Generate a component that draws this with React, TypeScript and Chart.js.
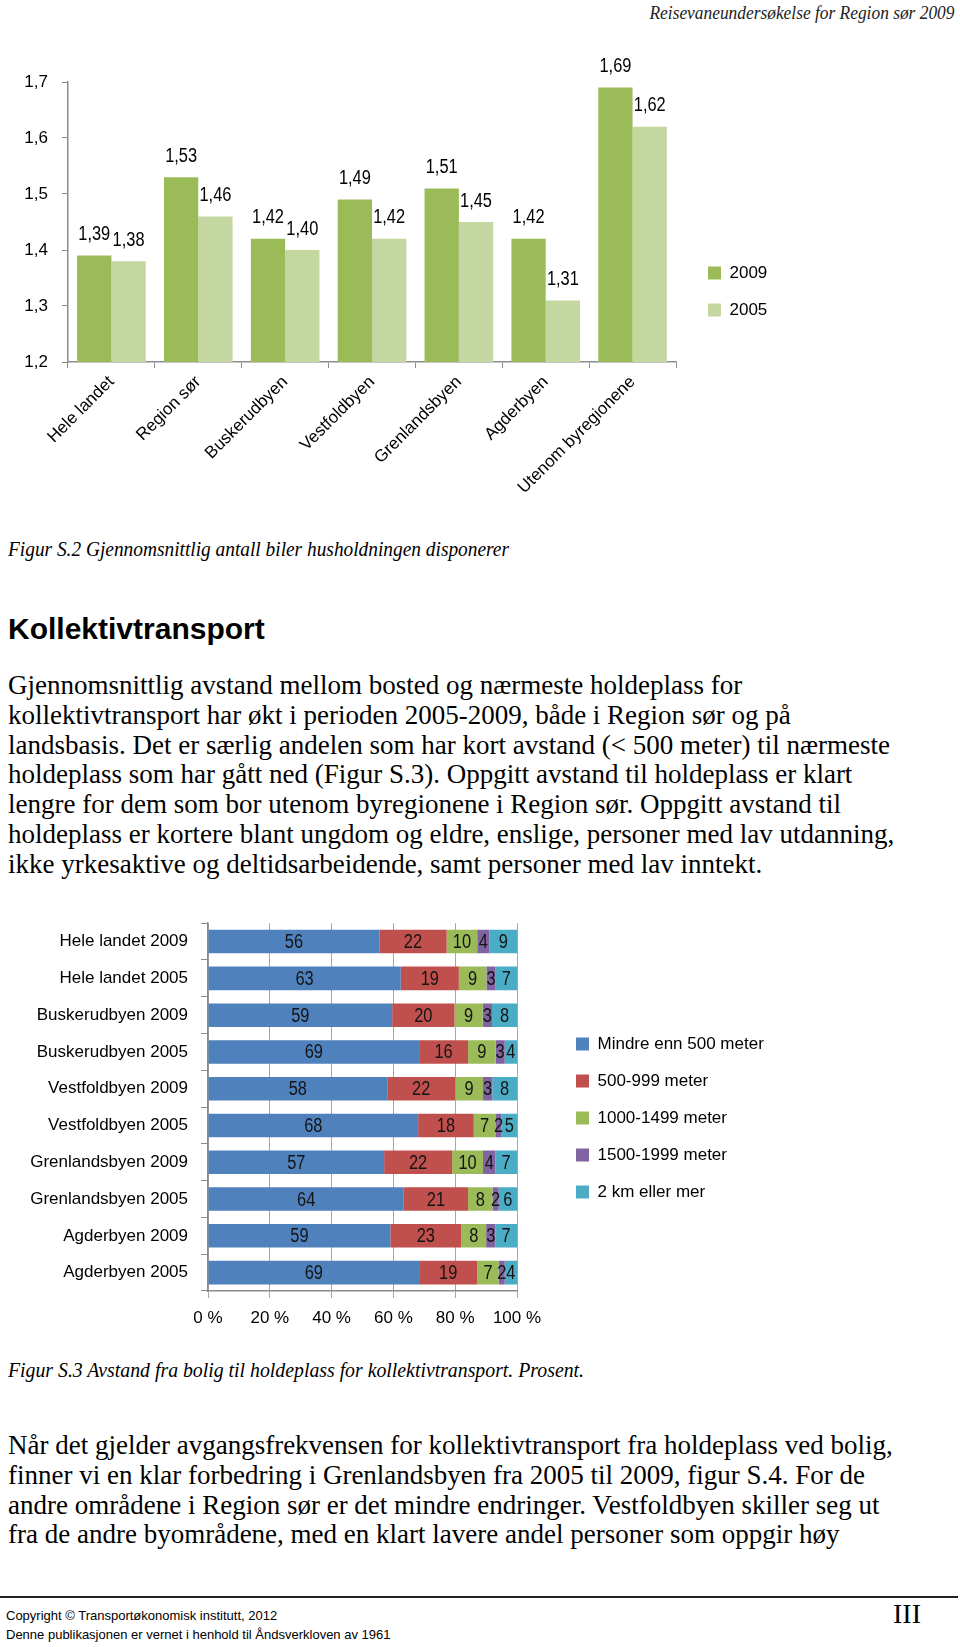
import React, { useEffect, useLayoutEffect, useRef } from 'react';
import { Chart, registerables } from 'chart.js';

Chart.register(...registerables);

// ---------- Data: Figur S.2 ----------
const carCategories = ['Hele landet', 'Region sør', 'Buskerudbyen', 'Vestfoldbyen', 'Grenlandsbyen', 'Agderbyen', 'Utenom byregionene'];
const cars2009 = [1.39, 1.53, 1.42, 1.49, 1.51, 1.42, 1.69];
const cars2005 = [1.38, 1.46, 1.4, 1.42, 1.45, 1.31, 1.62];
const carSeriesNames = ['2009', '2005'];
const carAxisMin = 1.2;
const carAxisMax = 1.7;
const carAxisStep = 0.1;

// ---------- Data: Figur S.3 ----------
const stopCategories = [
  'Hele landet 2009', 'Hele landet 2005', 'Buskerudbyen 2009', 'Buskerudbyen 2005', 'Vestfoldbyen 2009',
  'Vestfoldbyen 2005', 'Grenlandsbyen 2009', 'Grenlandsbyen 2005', 'Agderbyen 2009', 'Agderbyen 2005',
];
const stopSeriesNames = ['Mindre enn 500 meter', '500-999 meter', '1000-1499 meter', '1500-1999 meter', '2 km eller mer'];
const under500 = [56, 63, 59, 69, 58, 68, 57, 64, 59, 69];
const m500to999 = [22, 19, 20, 16, 22, 18, 22, 21, 23, 19];
const m1000to1499 = [10, 9, 9, 9, 9, 7, 10, 8, 8, 7];
const m1500to1999 = [4, 3, 3, 3, 3, 2, 4, 2, 3, 2];
const km2plus = [9, 7, 8, 4, 8, 5, 7, 6, 7, 4];
const percentTickStep = 20;

const SANS = "'Liberation Sans', Arial, sans-serif";
const SERIF = "'Liberation Serif', 'Times New Roman', serif";
const AXIS = '#8c8c8c';
const TICK_SIZE = 17;

const placeLegend = (x: number, firstCenter: number) => ({
  id: 'placeLegend',
  afterLayout(chart: any) {
    const l = chart.legend;
    if (!l) return;
    const pad = l.options.labels.padding;
    const fs = l.options.labels.font.size;
    l.left = x - pad;
    l.top = firstCenter - fs / 2 - pad;
    l.width = 320;
    l.height = 400;
    l.right = l.left + l.width;
    l.bottom = l.top + l.height;
  },
});

const fmtComma = (v: number, d: number) => v.toFixed(d).replace('.', ',');

// narrow-looking value labels (the original uses a condensed sans face)
function drawNarrow(ctx: CanvasRenderingContext2D, text: string, x: number, y: number) {
  ctx.save();
  ctx.translate(x, y);
  ctx.scale(0.82, 1);
  ctx.fillText(text, 0, 0);
  ctx.restore();
}

function CarChart() {
  const ref = useRef<HTMLCanvasElement>(null);
  useEffect(() => {
    const canvasTop = 40;
    const chart = new Chart(ref.current!, {
      type: 'bar',
      data: {
        labels: carCategories,
        datasets: [
          { label: carSeriesNames[0], data: cars2009, backgroundColor: '#9BBB59', borderWidth: 0, categoryPercentage: 0.79, barPercentage: 1 },
          { label: carSeriesNames[1], data: cars2005, backgroundColor: '#C4D7A0', borderWidth: 0, categoryPercentage: 0.79, barPercentage: 1 },
        ],
      },
      options: {
        animation: false,
        responsive: false,
        layout: { padding: { top: 82 - canvasTop, left: 0, right: 960 - 676, bottom: 0 } },
        plugins: {
          legend: {
            position: 'chartArea' as any,
            align: 'start',
            labels: { boxWidth: 13, boxHeight: 13, padding: 20, color: '#000', font: { family: SANS, size: TICK_SIZE } },
          },
          tooltip: { enabled: false },
        },
        scales: {
          x: {
            grid: { display: true, drawOnChartArea: false, drawTicks: true, tickLength: 6, color: AXIS, offset: true },
            border: { color: AXIS, width: 1.5 },
            ticks: { autoSkip: false, maxRotation: 45, minRotation: 45, padding: 4, color: '#000', font: { family: SANS, size: TICK_SIZE } },
            afterFit: (s: any) => { s.height = 520 - 362; },
          },
          y: {
            min: carAxisMin,
            max: carAxisMax,
            grid: { display: true, drawOnChartArea: false, drawTicks: true, tickLength: 6, color: AXIS },
            border: { color: AXIS, width: 1.5 },
            ticks: { stepSize: carAxisStep, padding: 14, color: '#000', font: { family: SANS, size: TICK_SIZE }, callback: (v: any) => fmtComma(Number(v), 1) },
            afterFit: (s: any) => { s.width = 68; },
          },
        },
      },
      plugins: [
        placeLegend(708, 273 - canvasTop),
        {
          id: 'valueLabels',
          afterDatasetsDraw(c: any) {
            const ctx = c.ctx;
            ctx.save();
            ctx.font = `20px ${SANS}`;
            ctx.fillStyle = '#000';
            ctx.textAlign = 'center';
            ctx.textBaseline = 'middle';
            c.data.datasets.forEach((ds: any, i: number) => {
              c.getDatasetMeta(i).data.forEach((bar: any, j: number) => {
                drawNarrow(ctx, fmtComma(ds.data[j], 2), bar.x, bar.y - 21);
              });
            });
            ctx.restore();
          },
        },
      ],
    } as any);
    return () => chart.destroy();
  }, []);
  return <canvas ref={ref} width={960} height={480} style={{ position: 'absolute', left: 0, top: 40, width: 960, height: 480 }} />;
}

function StopChart() {
  const ref = useRef<HTMLCanvasElement>(null);
  useEffect(() => {
    const canvasTop = 900;
    const raws = [under500, m500to999, m1000to1499, m1500to1999, km2plus];
    const colors = ['#4F81BD', '#C0504D', '#9BBB59', '#8064A2', '#4BACC6'];
    const totals = stopCategories.map((_, j) => raws.reduce((s, r) => s + r[j], 0));
    const chart = new Chart(ref.current!, {
      type: 'bar',
      data: {
        labels: stopCategories,
        datasets: raws.map((r, i) => ({
          label: stopSeriesNames[i],
          data: r.map((v, j) => (v / totals[j]) * 100),
          raw: r,
          backgroundColor: colors[i],
          borderWidth: 0,
          categoryPercentage: 1,
          barPercentage: 0.64,
        })),
      },
      options: {
        animation: false,
        responsive: false,
        indexAxis: 'y',
        layout: { padding: { top: 917 - canvasTop, left: 0, right: 960 - 517, bottom: 0 } },
        plugins: {
          legend: {
            position: 'chartArea' as any,
            align: 'start',
            labels: { boxWidth: 13, boxHeight: 13, padding: 20, color: '#000', font: { family: SANS, size: TICK_SIZE } },
          },
          tooltip: { enabled: false },
        },
        scales: {
          x: {
            stacked: true,
            min: 0,
            max: 100,
            grid: { display: true, drawOnChartArea: true, drawTicks: true, tickLength: 7, color: '#a6a6a6' },
            border: { color: AXIS, width: 1.5 },
            ticks: { stepSize: percentTickStep, autoSkip: false, maxRotation: 0, minRotation: 0, padding: 10, color: '#000', font: { family: SANS, size: TICK_SIZE }, callback: (v: any) => `${v} %` },
            afterFit: (s: any) => { s.height = 1340 - 1291; },
          },
          y: {
            stacked: true,
            grid: { display: true, drawOnChartArea: false, drawTicks: true, tickLength: 7, color: AXIS, offset: true },
            border: { color: AXIS, width: 1.5 },
            ticks: { autoSkip: false, padding: 13, color: '#000', font: { family: SANS, size: TICK_SIZE } },
            afterFit: (s: any) => { s.width = 208; },
          },
        },
      },
      plugins: [
        placeLegend(576, 1044 - canvasTop),
        {
          id: 'segLabels',
          afterDatasetsDraw(c: any) {
            const ctx = c.ctx;
            ctx.save();
            ctx.font = `20px ${SANS}`;
            ctx.fillStyle = '#141414';
            ctx.textAlign = 'center';
            ctx.textBaseline = 'middle';
            c.data.datasets.forEach((ds: any, i: number) => {
              c.getDatasetMeta(i).data.forEach((bar: any, j: number) => {
                drawNarrow(ctx, String(ds.raw[j]), (bar.x + bar.base) / 2, bar.y + 1);
              });
            });
            ctx.restore();
          },
        },
      ],
    } as any);
    return () => chart.destroy();
  }, []);
  return <canvas ref={ref} width={960} height={440} style={{ position: 'absolute', left: 0, top: 900, width: 960, height: 440 }} />;
}

function FitText({ text, left, right, top, width, style }: any) {
  const ref = useRef<HTMLDivElement>(null);
  useLayoutEffect(() => {
    const el = ref.current;
    if (!el) return;
    el.style.transform = 'none';
    const w = el.getBoundingClientRect().width;
    if (w > 0) el.style.transform = `scaleX(${width / w})`;
  }, [text, width]);
  const pos: any = { position: 'absolute', top, whiteSpace: 'nowrap' };
  if (right !== undefined) { pos.right = right; pos.transformOrigin = 'right center'; } else { pos.left = left; pos.transformOrigin = 'left center'; }
  return <div ref={ref} style={{ ...pos, ...style }}>{text}</div>;
}

const para1 = [
  'Gjennomsnittlig avstand mellom bosted og nærmeste holdeplass for',
  'kollektivtransport har økt i perioden 2005-2009, både i Region sør og på',
  'landsbasis. Det er særlig andelen som har kort avstand (< 500 meter) til nærmeste',
  'holdeplass som har gått ned (Figur S.3). Oppgitt avstand til holdeplass er klart',
  'lengre for dem som bor utenom byregionene i Region sør. Oppgitt avstand til',
  'holdeplass er kortere blant ungdom og eldre, enslige, personer med lav utdanning,',
  'ikke yrkesaktive og deltidsarbeidende, samt personer med lav inntekt.',
];
const para2 = [
  'Når det gjelder avgangsfrekvensen for kollektivtransport fra holdeplass ved bolig,',
  'finner vi en klar forbedring i Grenlandsbyen fra 2005 til 2009, figur S.4. For de',
  'andre områdene i Region sør er det mindre endringer. Vestfoldbyen skiller seg ut',
  'fra de andre byområdene, med en klart lavere andel personer som oppgir høy',
];

export default function App() {
  const bodyStyle: any = { position: 'absolute', left: 8, fontFamily: SERIF, fontSize: 27, lineHeight: '29.8px', color: '#000', whiteSpace: 'pre' };
  const capStyle: any = { fontFamily: SERIF, fontStyle: 'italic', fontSize: 21, lineHeight: '24px', color: '#000' };
  const footStyle: any = { position: 'absolute', left: 6, fontFamily: SANS, fontSize: 13, lineHeight: '16px', color: '#000', whiteSpace: 'nowrap' };
  return (
    <div style={{ position: 'absolute', left: 0, top: 0, width: 960, height: 1647, background: '#fff', overflow: 'hidden' }}>
      <FitText text="Reisevaneundersøkelse for Region sør 2009" right={6} top={2} width={305}
        style={{ fontFamily: SERIF, fontStyle: 'italic', fontSize: 19, lineHeight: '22px', color: '#222' }} />
      <CarChart />
      <FitText text="Figur S.2 Gjennomsnittlig antall biler husholdningen disponerer" left={8} top={537} width={501} style={capStyle} />
      <div style={{ position: 'absolute', left: 8, top: 614, fontFamily: SANS, fontWeight: 'bold', fontSize: 30, lineHeight: '30px', color: '#000', whiteSpace: 'nowrap' }}>
        Kollektivtransport
      </div>
      <div style={{ ...bodyStyle, top: 671 }}>{para1.join('\n')}</div>
      <StopChart />
      <FitText text="Figur S.3 Avstand fra bolig til holdeplass for kollektivtransport. Prosent." left={8} top={1358} width={576} style={capStyle} />
      <div style={{ ...bodyStyle, top: 1431 }}>{para2.join('\n')}</div>
      <div style={{ position: 'absolute', left: 0, top: 1596, width: 958, height: 2, background: '#222' }} />
      <div style={{ ...footStyle, top: 1608 }}>Copyright © Transportøkonomisk institutt, 2012</div>
      <div style={{ ...footStyle, top: 1627 }}>Denne publikasjonen er vernet i henhold til Åndsverkloven av 1961</div>
      <div style={{ position: 'absolute', left: 893, top: 1599, fontFamily: SERIF, fontSize: 28, lineHeight: '30px', color: '#000', whiteSpace: 'nowrap' }}>
        III
      </div>
    </div>
  );
}
